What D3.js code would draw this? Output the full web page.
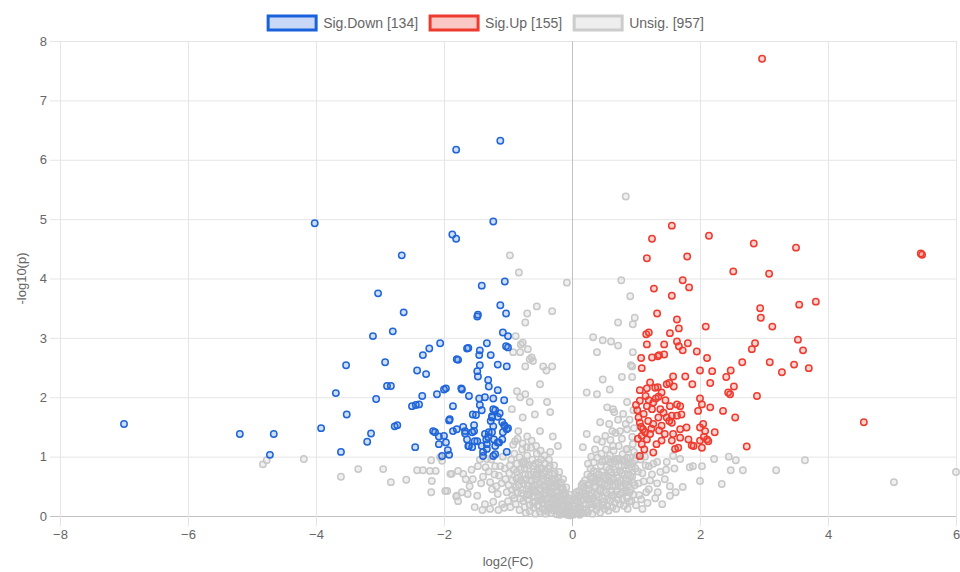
<!DOCTYPE html>
<html>
<head>
<meta charset="utf-8">
<script src="https://cdn.jsdelivr.net/npm/d3@7"></script>
<style>
  body { margin: 0; background: #fff; }
  svg { display: block; font-family: "Liberation Sans", Arial, sans-serif; }
</style>
</head>
<body>
<svg width="960" height="572"></svg>
<script>
// tick values
var xTicks = [-8, -6, -4, -2, 0, 2, 4, 6];
var yTicks = [0, 1, 2, 3, 4, 5, 6, 7, 8];

// legend labels
var seriesNames = ['Sig.Down', 'Sig.Up', 'Unsig.'];
var seriesCounts = [134, 155, 957];

// [log2(FC), -log10(p)]
var sigDown = [
  [-7.0,1.55],[-5.19,1.38],[-4.66,1.38],[-4.72,1.03],[-4.02,4.93],[-1.81,6.17],[-1.12,6.32],[-1.23,4.96],
  [-1.87,4.74],[-1.81,4.67],[-2.66,4.39],[-3.03,3.75],[-1.41,3.88],[-1.05,3.95],[-2.63,3.43],[-2.80,3.11],
  [-3.11,3.03],[-1.12,3.55],[-1.03,3.41],[-1.48,3.36],[-1.47,3.39],[-2.06,2.91],[-2.23,2.82],[-2.33,2.71],
  [-1.64,2.82],[-1.62,2.83],[-1.44,2.79],[-1.33,2.91],[-1.45,2.71],[-1.27,2.71],[-1.08,3.09],[-1.00,3.03],
  [-1.03,2.86],[-1.00,2.84],[-1.80,2.64],[-1.78,2.63],[-3.53,2.54],[-2.92,2.59],[-2.42,2.45],[-2.28,2.39],
  [-1.44,2.54],[-1.48,2.44],[-1.47,2.35],[-1.16,2.55],[-1.02,2.52],[-1.31,2.29],[-1.30,2.18],[-1.16,2.12],
  [-3.69,2.07],[-3.06,1.97],[-2.89,2.19],[-2.83,2.19],[-2.00,2.13],[-1.97,2.15],[-2.11,2.05],[-2.34,2.02],
  [-1.73,2.15],[-1.61,2.02],[-1.45,1.98],[-1.36,2.00],[-1.23,1.98],[-1.06,1.95],[-2.50,1.85],[-2.44,1.87],
  [-2.39,1.88],[-1.86,1.85],[-1.44,1.87],[-1.41,1.78],[-1.50,1.70],[-1.20,1.78],[-1.13,1.73],[-3.52,1.71],
  [-1.92,1.61],[-1.25,1.68],[-1.27,1.60],[-1.06,1.53],[-1.00,1.48],[-3.92,1.48],[-2.77,1.51],[-2.73,1.53],
  [-3.14,1.39],[-3.20,1.25],[-3.61,1.08],[-2.45,1.16],[-2.17,1.43],[-2.14,1.41],[-2.08,1.34],[-2.08,1.21],
  [-1.97,1.24],[-1.94,1.11],[-1.92,1.03],[-1.86,1.43],[-1.80,1.46],[-1.70,1.50],[-1.67,1.39],[-1.53,1.53],
  [-1.53,1.43],[-1.64,1.29],[-1.61,1.18],[-1.48,1.26],[-1.41,1.18],[-1.56,1.16],[-1.34,1.29],[-1.30,1.41],
  [-1.25,1.41],[-1.23,1.51],[-1.16,1.67],[-1.09,1.58],[-1.08,1.41],[-1.02,1.46],[-1.22,1.29],[-1.14,1.24],
  [-1.33,1.21],[-1.20,1.18],[-1.39,1.08],[-1.20,1.04],[-1.02,1.08],[-1.72,2.13],[-1.55,1.71],[-1.23,1.80],
  [-1.25,1.66],[-1.91,1.63],[-1.67,1.43],[-1.56,1.41],[-1.62,1.18],[-1.52,1.26],[-1.36,1.38],[-1.31,1.33],
  [-1.09,1.29],[-1.05,1.51],[-1.33,1.13],[-1.16,1.24],[-1.39,1.01],[-1.23,1.01],[-2.03,1.01],[-2.00,1.35]
];

var sigUp = [
  [2.97,7.70],[5.47,4.40],[5.45,4.42],[4.56,1.58],[1.56,4.89],[1.25,4.67],[2.14,4.72],[2.84,4.59],
  [3.50,4.52],[1.17,4.34],[1.80,4.37],[2.52,4.12],[3.08,4.08],[1.73,3.97],[1.83,3.85],[1.28,3.83],
  [1.56,3.71],[2.94,3.50],[2.95,3.34],[3.55,3.56],[3.81,3.61],[1.33,3.41],[1.64,3.31],[1.67,3.16],
  [2.09,3.19],[3.13,3.19],[1.16,3.06],[1.20,3.09],[1.53,3.08],[1.17,2.89],[1.44,2.89],[1.64,2.94],
  [1.67,2.86],[1.73,2.79],[1.81,2.91],[1.95,2.77],[2.11,2.66],[3.53,2.97],[2.86,2.91],[2.81,2.81],
  [3.61,2.79],[1.08,2.66],[1.25,2.67],[1.34,2.69],[1.36,2.71],[1.44,2.72],[1.09,2.49],[2.00,2.45],
  [2.19,2.44],[2.66,2.59],[3.09,2.59],[3.47,2.55],[3.28,2.42],[3.70,2.49],[2.48,2.45],[2.41,2.34],
  [2.53,2.18],[1.77,2.35],[1.88,2.22],[1.58,2.35],[2.16,2.24],[1.22,2.25],[1.48,2.22],[1.52,2.24],
  [1.59,2.18],[1.34,2.17],[1.06,2.12],[1.17,2.15],[2.44,2.08],[2.47,2.05],[2.89,2.02],[2.00,1.98],
  [1.30,2.16],[1.40,2.08],[1.35,2.01],[1.06,1.94],[1.17,1.85],[1.27,1.91],[1.25,1.80],[1.38,1.80],
  [1.43,1.74],[1.53,1.85],[1.64,1.88],[1.69,1.85],[1.71,1.71],[1.64,1.69],[1.56,1.69],[1.48,1.66],
  [1.35,1.66],[1.04,1.66],[1.06,1.57],[1.11,1.46],[1.09,1.35],[1.17,1.29],[1.22,1.38],[1.27,1.55],
  [1.40,1.52],[1.45,1.38],[1.56,1.57],[1.58,1.38],[1.69,1.46],[1.79,1.49],[1.69,1.32],[1.82,1.29],
  [1.87,1.19],[1.56,1.27],[1.40,1.27],[1.32,1.21],[1.09,1.21],[1.06,1.01],[1.27,1.07],[1.66,1.15],
  [1.61,1.13],[2.03,1.88],[2.16,1.83],[1.97,1.77],[2.05,1.55],[2.00,1.49],[2.08,1.43],[2.23,1.41],
  [2.11,1.29],[2.00,1.27],[2.03,1.15],[1.90,1.18],[2.36,1.77],[2.55,1.66],[2.73,1.17],[2.06,1.33],
  [2.13,1.26],[1.02,1.78],[1.12,1.72],[1.19,1.60],[1.08,1.50],[1.14,1.41],[1.24,1.47],[1.03,1.30],
  [1.13,1.12],[1.20,1.95],[1.31,1.98],[1.46,1.95],[1.52,1.60],[1.00,1.87],[1.36,1.44],[1.15,2.02]
];

var unsig = [
  // scattered, upper
  [0.84,5.38],[-0.08,3.93],[-0.97,4.39],[-0.83,4.10],[-0.55,3.53],[-0.70,3.41],[-0.31,3.45],[-0.73,3.26],
  [-0.88,3.03],[-0.80,2.89],[-0.77,2.92],[-0.92,2.76],[-0.81,2.76],[-0.69,2.81],[-0.66,2.64],[-0.61,2.61],
  [-0.63,2.67],[-0.73,2.52],[-0.45,2.52],[-0.31,2.52],[0.77,3.97],[0.91,3.70],[0.98,3.34],[0.95,3.23],
  [0.72,3.26],[0.33,3.01],[0.48,2.96],[0.61,2.94],[0.72,2.87],[0.39,2.76],[0.95,2.76],[0.92,2.54],
  [-0.86,2.10],[-0.73,2.05],[-0.50,2.22],[-0.40,2.45],[-0.81,2.00],[-0.66,1.92],[-0.39,1.92],[-0.34,1.75],
  [-0.94,1.80],[-0.77,1.66],[-0.58,1.71],[-0.84,1.43],[-0.70,1.34],[-0.50,1.43],[-0.30,1.34],[-0.22,1.18],
  [-0.34,1.08],[-0.89,1.26],[0.23,2.08],[0.39,2.05],[0.48,2.30],[0.59,2.13],[0.78,2.34],[0.94,2.34],
  [0.94,2.52],[0.55,1.83],[0.64,1.80],[0.86,1.92],[0.44,1.58],[0.23,1.38],[0.39,1.29],[0.63,1.43],
  [0.75,1.43],[0.86,1.46],[0.94,1.33],[0.17,1.16],[0.64,1.18],[0.86,1.13],[0.95,1.21],
  // right of the up group
  [1.33,0.91],[1.48,0.91],[1.58,1.01],[1.69,0.96],[1.38,0.74],[1.53,0.50],[1.34,0.40],[1.53,0.34],
  [6.0,0.74],[5.03,0.57],[3.64,0.94],[3.19,0.77],[2.45,1.00],[2.56,0.94],[2.67,0.77],[2.48,0.77],
  [2.34,0.54],[2.22,0.96],[2.00,0.59],[1.84,0.82],[1.89,0.84],[2.03,0.84],[1.73,0.49],
  // left of the down group
  [-2.06,0.99],[-1.88,0.71],[-1.78,0.76],[-1.70,0.71],[-1.47,0.84],[-1.33,0.96],[-1.20,0.84],[-1.55,0.62],
  [-1.39,0.66],[-1.28,0.57],[-1.98,0.42],[-1.80,0.34],[-1.63,0.37],[-1.48,0.34],[-1.23,0.24],[-1.09,0.20],
  [-1.16,0.37],[-4.83,0.87],[-4.77,0.94],[-4.19,0.96],[-3.61,0.66],[-3.34,0.79],[-2.95,0.79],[-2.83,0.57],
  [-2.59,0.61],[-2.42,0.77],[-2.33,0.77],[-2.22,0.76],[-2.13,0.76],[-2.19,0.59],[-2.20,0.40],[-1.95,0.42],
  [-2.20,0.94],[-2.03,0.93],[-1.90,0.71],[-1.81,0.33],[-1.78,0.25],
  // central cloud, left arm
  [-0.95,0.95],[-0.90,1.05],[-0.86,0.88],[-0.82,0.99],[-0.80,0.78],[-0.78,1.12],[-0.75,0.92],[-0.73,0.70],
  [-0.70,1.02],[-0.68,0.85],[-0.66,0.60],[-0.64,1.15],[-0.62,0.95],[-0.60,0.74],[-0.58,0.52],[-0.57,0.88],
  [-0.55,1.05],[-0.53,0.66],[-0.52,0.42],[-0.50,0.80],[-0.48,0.95],[-0.47,0.58],[-0.45,0.35],[-0.44,0.72],
  [-0.42,0.88],[-0.41,0.50],[-0.40,0.28],[-0.38,0.64],[-0.37,0.80],[-0.35,0.42],[-0.34,0.22],[-0.33,0.56],
  [-0.31,0.70],[-0.30,0.36],[-0.29,0.15],[-0.27,0.48],[-0.26,0.62],[-0.25,0.30],[-0.23,0.10],[-0.22,0.40],
  [-0.21,0.55],[-0.20,0.22],[-0.18,0.06],[-0.17,0.33],[-0.16,0.46],[-0.15,0.16],[-0.13,0.04],[-0.12,0.26],
  [-0.11,0.38],[-0.10,0.12],[-0.08,0.02],[-0.07,0.19],[-0.06,0.30],[-0.05,0.08],[-0.03,0.01],[-0.02,0.13],
  [-0.98,0.72],[-0.93,0.60],[-0.88,0.48],[-0.84,0.65],[-0.79,0.38],[-0.76,0.55],[-0.71,0.45],[-0.69,0.28],
  [-0.65,0.40],[-0.61,0.22],[-0.59,0.33],[-0.54,0.18],[-0.51,0.26],[-0.46,0.12],[-0.43,0.20],[-0.39,0.08],
  [-0.36,0.14],[-0.32,0.05],[-0.28,0.09],[-0.24,0.03],[-0.19,0.02],[-0.92,1.20],[-0.85,1.30],[-0.77,1.22],
  [-0.71,1.16],[-0.63,1.27],[-0.56,1.18],[-0.49,1.10],[-0.43,1.02],[-0.36,0.95],[-0.28,0.85],[-0.20,0.74],
  [-0.14,0.62],[-0.09,0.48],[-0.04,0.36],[-1.05,0.80],[-1.10,0.55],[-1.02,0.40],[-1.08,1.00],[-1.14,0.68],
  [-1.00,0.25],[-0.96,0.15],[-1.25,0.45],[-1.30,0.75],[-1.42,0.55],[-1.36,0.20],[-1.60,0.50],[-1.52,0.15],
  [-0.88,0.20],[-0.82,0.10],[-0.74,0.15],[-0.66,0.08],
  [-0.97,0.85],[-0.91,0.78],[-0.87,0.63],[-0.83,0.52],[-0.81,0.29],[-0.78,0.90],[-0.74,0.80],[-0.72,0.62],
  [-0.69,0.52],[-0.67,0.35],[-0.64,0.70],[-0.62,0.48],[-0.60,0.14],[-0.57,0.62],[-0.56,0.40],[-0.54,0.78],
  [-0.51,0.55],[-0.49,0.34],[-0.48,0.68],[-0.46,0.22],[-0.44,0.50],[-0.42,0.38],[-0.39,0.58],[-0.38,0.18],
  [-0.36,0.70],[-0.34,0.32],[-0.32,0.48],[-0.30,0.24],[-0.28,0.60],[-0.26,0.12],[-0.25,0.42],[-0.23,0.32],
  [-0.21,0.16],[-0.19,0.48],[-0.18,0.26],[-0.16,0.10],[-0.14,0.36],[-0.13,0.18],[-0.11,0.06],[-0.09,0.25],
  [-0.08,0.14],[-0.06,0.04],[-0.04,0.20],[-0.02,0.06],[-1.04,0.62],[-1.12,0.84],[-1.18,0.50],[-1.21,0.70],
  [-1.06,0.14],[-1.15,0.10],[-0.93,0.35],[-0.99,0.52],[-0.72,0.05],[-0.57,0.04],[-0.50,0.07],[-0.41,0.04],
  [-1.26,0.95],[-1.44,0.95],[-1.35,0.82],[-1.57,0.78],[-1.66,0.62],[-1.40,0.10],[-1.28,0.12],[-1.72,0.40],
  [-0.94,0.44],[-0.90,0.30],[-0.86,0.74],[-0.85,0.40],[-0.80,0.60],[-0.77,0.44],[-0.76,0.25],[-0.73,0.88],
  [-0.70,0.36],[-0.68,0.70],[-0.66,0.18],[-0.63,0.58],[-0.61,0.84],[-0.59,0.44],[-0.58,0.24],[-0.55,0.70],
  [-0.53,0.32],[-0.52,0.90],[-0.50,0.46],[-0.47,0.80],[-0.46,0.28],[-0.45,0.62],[-0.43,0.10],[-0.42,0.76],
  [-0.40,0.44],[-0.38,0.30],[-0.37,0.54],[-0.35,0.84],[-0.33,0.14],[-0.32,0.40],[-0.31,0.62],[-0.29,0.28],
  [-0.27,0.72],[-0.26,0.20],[-0.24,0.52],[-0.22,0.64],[-0.20,0.34],[-0.19,0.12],[-0.17,0.56],[-0.15,0.28],
  [-0.14,0.46],[-0.12,0.16],[-0.10,0.34],[-0.09,0.08],[-0.07,0.26],[-0.05,0.14],[-0.04,0.04],[-0.01,0.08],
  // central cloud, right arm
  [0.02,0.02],[0.04,0.10],[0.05,0.22],[0.07,0.05],[0.08,0.32],[0.10,0.15],[0.11,0.42],[0.13,0.08],
  [0.14,0.26],[0.15,0.52],[0.17,0.12],[0.18,0.36],[0.20,0.60],[0.21,0.20],[0.23,0.46],[0.24,0.70],
  [0.26,0.28],[0.27,0.55],[0.29,0.80],[0.30,0.14],[0.31,0.38],[0.33,0.64],[0.34,0.90],[0.36,0.24],
  [0.37,0.48],[0.39,0.74],[0.40,0.98],[0.42,0.32],[0.43,0.58],[0.45,0.85],[0.46,1.05],[0.48,0.18],
  [0.49,0.42],[0.50,0.68],[0.52,0.94],[0.53,1.12],[0.55,0.28],[0.56,0.52],[0.58,0.78],[0.59,1.02],
  [0.61,0.40],[0.62,0.64],[0.64,0.88],[0.65,1.10],[0.67,0.22],[0.68,0.50],[0.70,0.74],[0.71,0.96],
  [0.73,1.18],[0.74,0.36],[0.76,0.60],[0.77,0.84],[0.79,1.04],[0.80,0.48],[0.82,0.70],[0.83,0.92],
  [0.85,1.12],[0.86,0.30],[0.88,0.58],[0.89,0.80],[0.91,0.98],[0.92,0.44],[0.94,0.66],[0.95,0.88],
  [0.97,1.08],[0.98,0.52],[0.12,0.02],[0.19,0.05],[0.25,0.07],[0.32,0.04],[0.38,0.10],[0.44,0.06],
  [0.51,0.12],[0.57,0.09],[0.63,0.15],[0.69,0.12],[0.75,0.20],[0.81,0.17],[0.87,0.12],[0.93,0.25],
  [1.00,0.18],[1.03,0.75],[1.07,0.95],[1.05,0.35],[1.12,0.58],[1.15,0.85],[1.20,0.45],[1.25,0.70],
  [1.18,0.22],[1.30,0.30],[1.45,0.62],[1.60,0.80],[1.62,0.40],[1.10,0.12],[0.52,1.35],[0.60,1.28],
  [0.68,1.40],[0.78,1.30],[0.84,1.55],[0.90,1.62],[0.97,1.48],[0.72,1.62],[0.58,1.55],[0.47,1.25],
  [0.36,1.12],[0.30,1.00],[0.66,1.75],[0.80,1.72],[0.96,1.78],[0.25,0.88],
  [0.03,0.16],[0.06,0.28],[0.09,0.06],[0.12,0.20],[0.16,0.40],[0.19,0.28],[0.22,0.10],[0.24,0.52],
  [0.28,0.34],[0.30,0.62],[0.32,0.20],[0.35,0.50],[0.38,0.36],[0.40,0.62],[0.41,0.16],[0.44,0.44],
  [0.47,0.74],[0.48,0.30],[0.51,0.54],[0.54,0.82],[0.55,0.16],[0.57,0.66],[0.60,0.90],[0.60,0.26],
  [0.63,0.52],[0.66,0.78],[0.66,0.36],[0.69,0.96],[0.72,0.56],[0.72,0.28],[0.75,0.76],[0.78,0.40],
  [0.80,0.94],[0.84,0.60],[0.85,0.42],[0.87,0.86],[0.90,0.24],[0.91,0.68],[0.96,0.36],[0.99,0.80],
  [1.02,1.02],[1.04,0.55],[1.08,0.28],[1.10,0.72],[1.16,0.40],[1.22,0.60],[1.27,0.88],[1.33,0.55],
  [1.41,0.20],[1.47,0.78],[1.14,1.00],[1.20,0.84],[0.07,0.40],[0.13,0.34],[0.17,0.55],[0.22,0.32],
  [0.05,0.36],[0.09,0.24],[0.11,0.12],[0.15,0.06],[0.18,0.48],[0.21,0.38],[0.26,0.44],[0.27,0.20],
  [0.29,0.66],[0.33,0.30],[0.34,0.76],[0.36,0.58],[0.39,0.22],[0.42,0.70],[0.43,0.44],[0.46,0.56],
  [0.47,0.92],[0.50,0.24],[0.53,0.62],[0.54,0.40],[0.56,0.96],[0.59,0.58],[0.61,0.74],[0.62,0.34],
  [0.65,0.62],[0.67,0.92],[0.70,0.42],[0.71,0.64],[0.74,0.96],[0.76,0.50],[0.78,0.72],[0.79,0.28],
  [0.82,0.86],[0.83,0.54],[0.86,0.98],[0.88,0.70],[0.90,0.40],[0.93,0.82],[0.95,0.56],[0.98,0.94]
];

var svg = d3.select('svg');
var padding = { top: 41, right: 4, bottom: 56, left: 60 };
var W = +svg.attr('width'), H = +svg.attr('height');
var chartArea = {
  width: W - padding.left - padding.right,
  height: H - padding.top - padding.bottom
};

var xScale = d3.scaleLinear().domain([-8, 6]).range([padding.left, padding.left + chartArea.width]);
var yScale = d3.scaleLinear().domain([0, 8]).range([padding.top + chartArea.height, padding.top]);

var gridColor = '#e5e5e5', zeroColor = '#c2c2c2', textColor = '#666';

// y axis + horizontal grid (ticks stick out 10px to the left)
var yAxis = svg.append('g')
  .attr('transform', 'translate(' + (padding.left - 10) + ',0)')
  .call(d3.axisLeft(yScale).tickValues(yTicks).tickSize(-(chartArea.width + 10)).tickPadding(3).tickFormat(d3.format('d')));

// x axis + vertical grid (ticks stick out 10px below)
var xBase = padding.top + chartArea.height;
var xAxis = svg.append('g')
  .attr('transform', 'translate(0,' + (xBase + 10) + ')')
  .call(d3.axisBottom(xScale).tickValues(xTicks).tickSize(-(chartArea.height + 10)).tickPadding(4).tickFormat(d3.format('d')));

[xAxis, yAxis].forEach(function (ax) {
  ax.select('.domain').remove();
  ax.selectAll('line').attr('stroke', function (d) { return d === 0 ? zeroColor : gridColor; });
  ax.selectAll('text').attr('fill', textColor).attr('font-size', 13)
    .attr('font-family', '"Liberation Sans", Arial, sans-serif');
});

// axis titles
svg.append('text')
  .attr('x', padding.left + chartArea.width / 2)
  .attr('y', H - 6)
  .attr('text-anchor', 'middle')
  .attr('fill', textColor).attr('font-size', 13)
  .text('log2(FC)');

svg.append('text')
  .attr('transform', 'translate(26,' + (padding.top + chartArea.height / 2) + ') rotate(-90)')
  .attr('text-anchor', 'middle')
  .attr('fill', textColor).attr('font-size', 13)
  .text('-log10(p)');

// points, grey first so the coloured groups sit on top
var styles = [
  { data: unsig,   stroke: '#c8c8c8', fill: 'rgba(205,205,205,0.3)' },
  { data: sigUp,   stroke: '#ee3b2f', fill: 'rgba(240,80,70,0.25)' },
  { data: sigDown, stroke: '#2066d8', fill: 'rgba(40,105,220,0.22)' }
];

var pts = svg.append('g');
styles.forEach(function (s) {
  pts.append('g')
    .selectAll('circle')
    .data(s.data)
    .enter()
    .append('circle')
    .attr('cx', function (d) { return xScale(d[0]); })
    .attr('cy', function (d) { return yScale(d[1]); })
    .attr('r', 3.2)
    .attr('fill', s.fill)
    .attr('stroke', s.stroke)
    .attr('stroke-width', 1.5);
});

// legend at top, centred on the canvas
var legendColors = [
  { stroke: '#1a62dc', fill: '#c8d8f6' },
  { stroke: '#ee3b2f', fill: '#fbc9c5' },
  { stroke: '#cccccc', fill: '#eeeeee' }
];
var boxW = 48, boxH = 14, gap = 12;
var legend = svg.append('g');
var items = legend.selectAll('g')
  .data(seriesNames)
  .enter()
  .append('g');

items.append('rect')
  .attr('width', boxW).attr('height', boxH)
  .attr('stroke-width', 3)
  .attr('stroke', function (d, i) { return legendColors[i].stroke; })
  .attr('fill', function (d, i) { return legendColors[i].fill; });

items.append('text')
  .attr('x', boxW + 7)
  .attr('y', boxH / 2 + 5)
  .attr('fill', textColor).attr('font-size', 14)
  .text(function (d, i) { return d + ' [' + seriesCounts[i] + ']'; });

var widths = [];
items.each(function () { widths.push(this.getBBox().width); });
var total = d3.sum(widths) + gap * (widths.length - 1);
var cx = W / 2 + 6 - total / 2;
items.attr('transform', function (d, i) {
  var x0 = cx + d3.sum(widths.slice(0, i)) + gap * i;
  return 'translate(' + x0 + ',16)';
});
</script>
</body>
</html>
